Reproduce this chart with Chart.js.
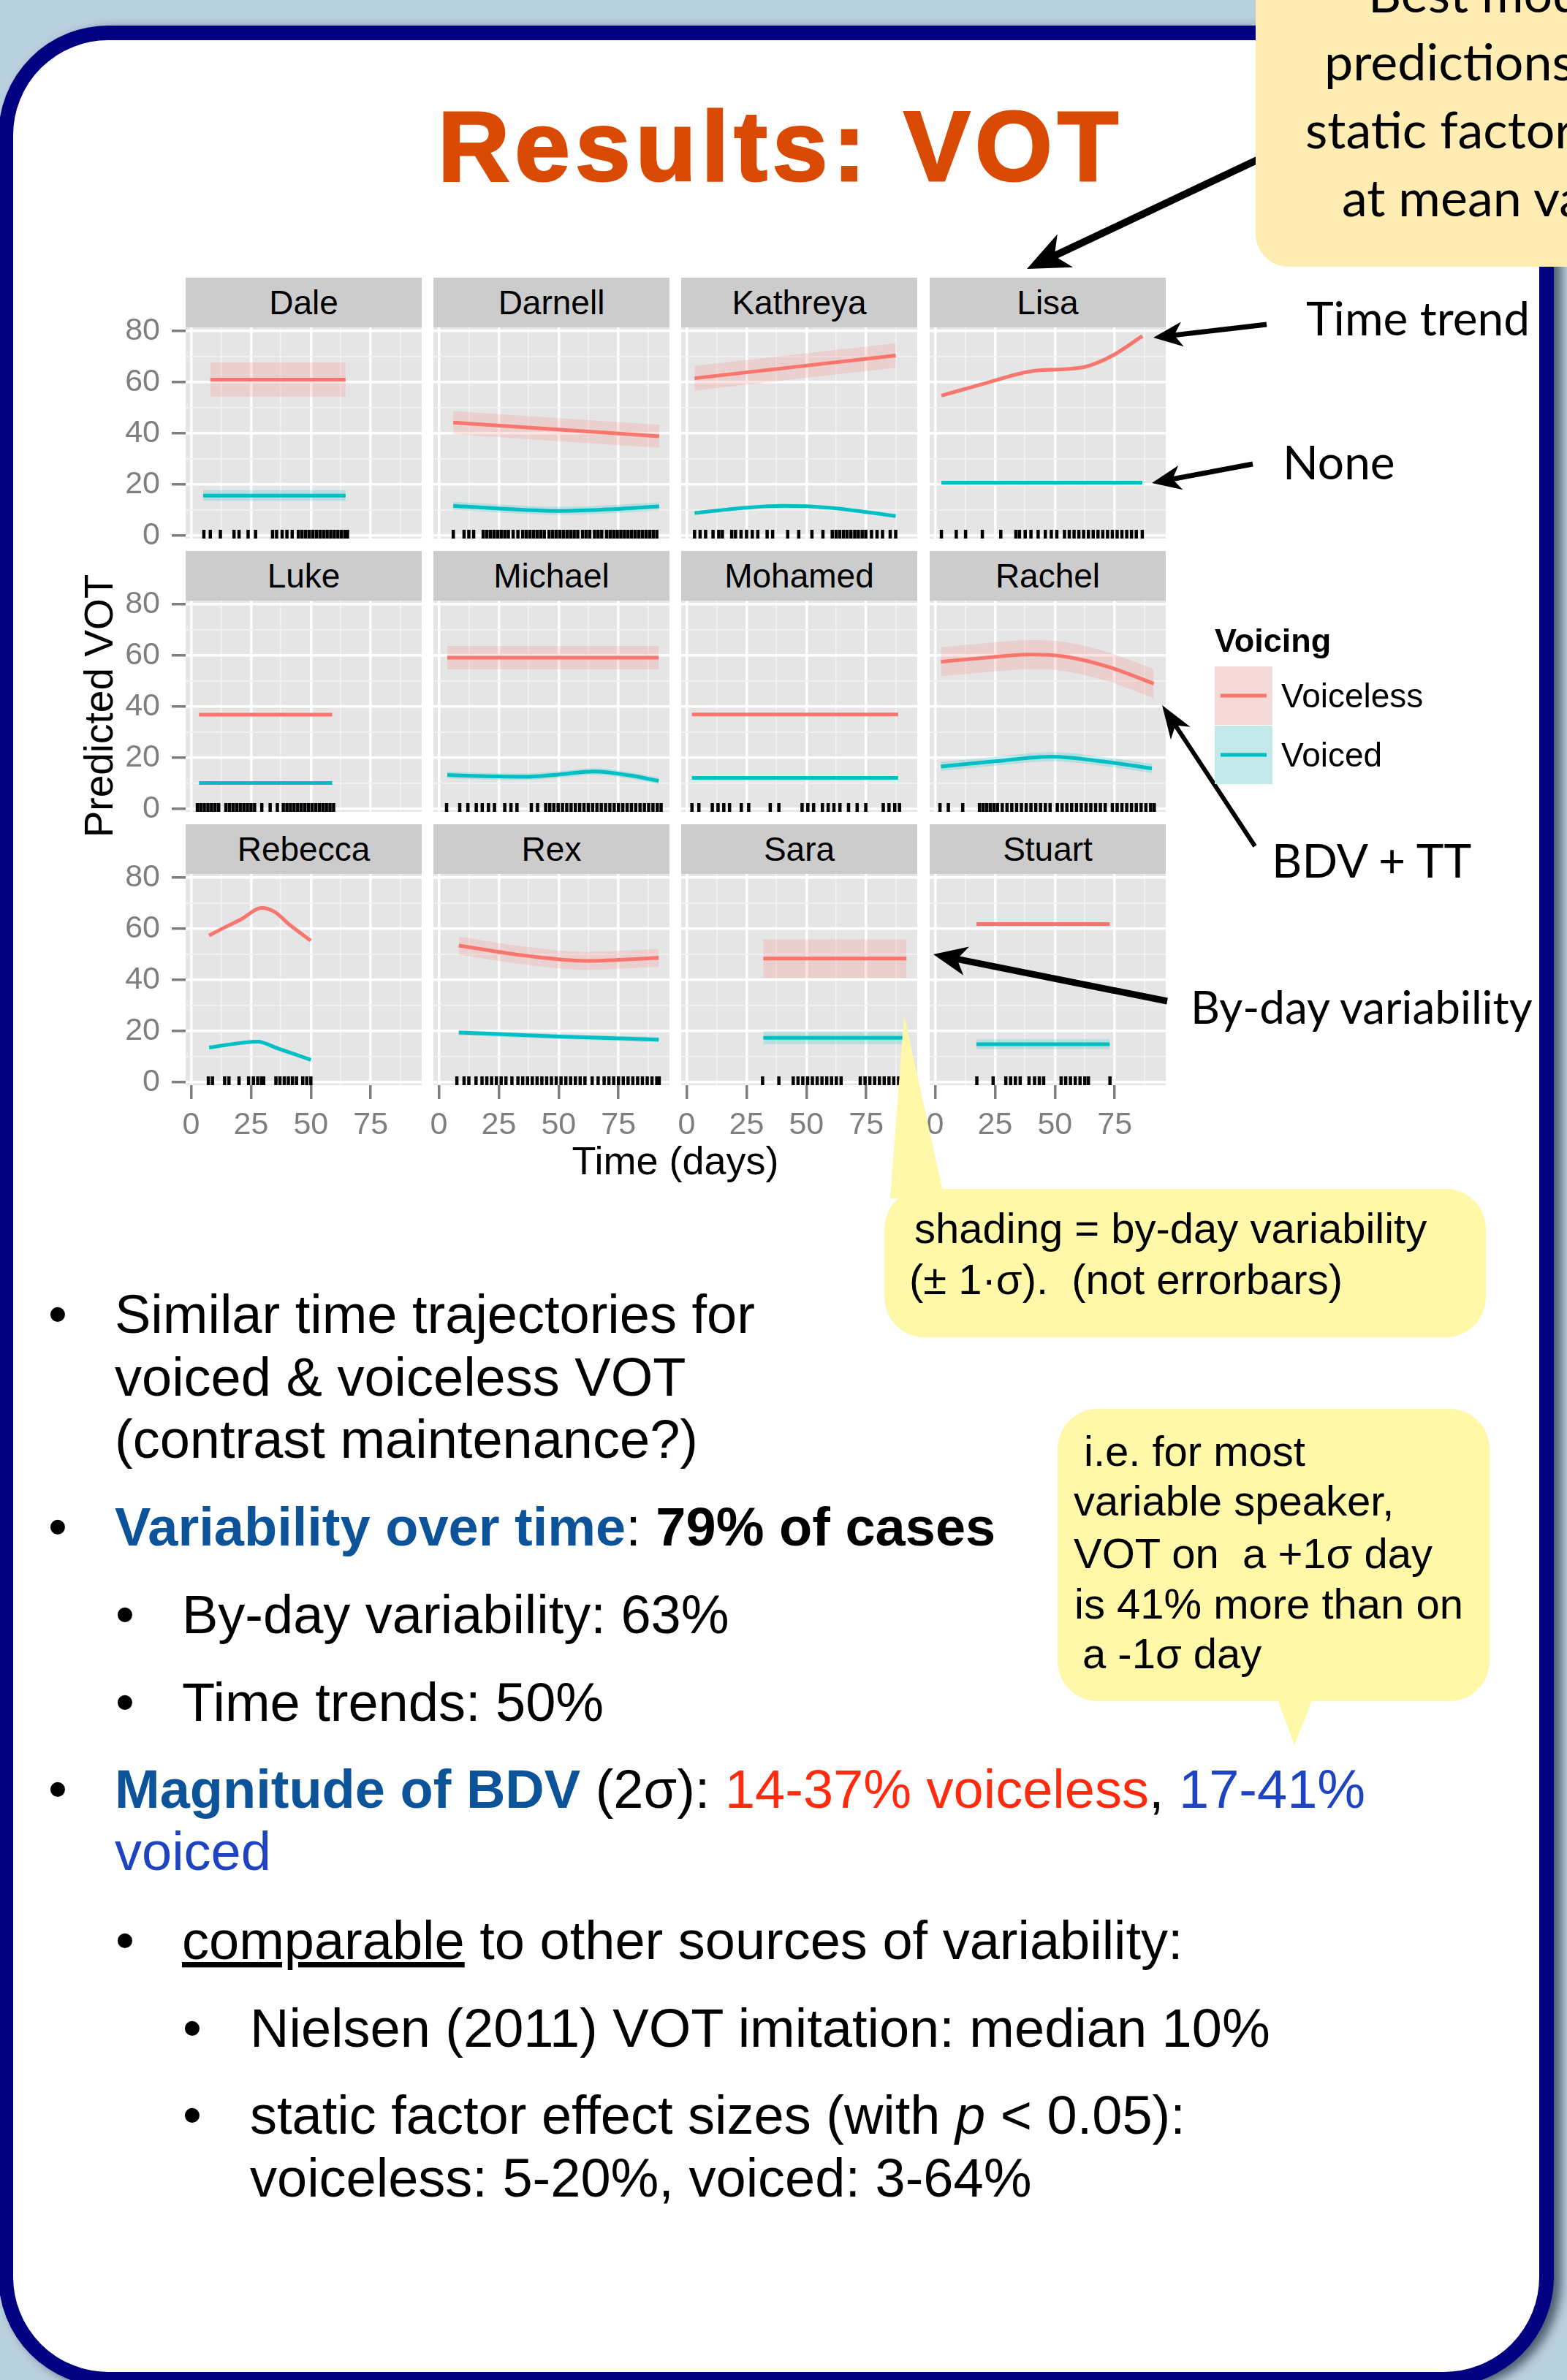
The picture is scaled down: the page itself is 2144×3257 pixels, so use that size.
<!DOCTYPE html>
<html>
<head>
<meta charset="utf-8">
<title>Results: VOT</title>
<script src="https://cdn.jsdelivr.net/npm/chart.js@4.4.1/dist/chart.umd.min.js"></script>
<style>
  html, body { margin: 0; padding: 0; }
  body { position: relative; width: 2144px; height: 3257px; overflow: hidden; background: #b9d0df;
         font-family: "Liberation Sans", Arial, sans-serif; }
  #frame { position: absolute; left: -2px; top: 35px; width: 2088px; height: 3191px; border: 20px solid #000080;
           border-radius: 150px; background: #fff; box-shadow: 10px 4px 14px rgba(20, 30, 50, 0.65); }
  .strip { position: absolute; z-index: 1; width: 323px; height: 68px; background: #cccccc; color: #000;
           font-size: 46px; line-height: 68px; text-align: center; }
  canvas { position: absolute; z-index: 2; }
  #overlay { position: absolute; left: 0; top: 0; z-index: 5; }
</style>
</head>
<body>
<div id="frame"></div>

<svg id="overlay" width="2144" height="3257" xmlns="http://www.w3.org/2000/svg">
  <g id="arrows"></g>

  <!-- callouts -->
  <rect x="1718" y="-80" width="500" height="445" rx="45" fill="#feecb3"/>
  <g fill="#fef8a8">
    <polygon points="1237,1389 1292,1640 1218,1640"/>
    <rect x="1210" y="1627" width="823" height="203" rx="55"/>
    <polygon points="1746,2320 1798,2320 1771,2388"/>
    <rect x="1447" y="1928" width="591" height="400" rx="55"/>
  </g>

  <g font-family="Lato, 'Open Sans', sans-serif" font-size="70" fill="#000">
    <text x="1872" y="17">Best model</text>
    <text x="1812" y="110">predictions</text>
    <text x="1786" y="203">static factors</text>
    <text x="1836" y="296">at mean values</text>
  </g>
  <g font-family="Lato, 'Open Sans', sans-serif" font-size="64" fill="#000">
    <text x="1787" y="459">Time trend</text>
    <text x="1755" y="656">None</text>
    <text x="1740" y="1201">BDV + TT</text>
    <text x="1629" y="1401" font-size="62">By-day variability</text>
  </g>

  <g font-family="'Liberation Sans', Arial, sans-serif">
    <text x="1068" y="247" text-anchor="middle" font-weight="bold" font-size="136" fill="#d94a04"
          stroke="#d94a04" stroke-width="3" letter-spacing="7">Results: VOT</text>
    <text transform="translate(154,966) rotate(-90)" text-anchor="middle" font-size="55">Predicted VOT</text>
    <text x="924" y="1607" text-anchor="middle" font-size="54">Time (days)</text>
  </g>

  <g id="legend" font-family="'Liberation Sans', Arial, sans-serif"></g>

  <g font-family="'Liberation Sans', Arial, sans-serif" font-size="58" fill="#000">
    <text x="1251" y="1701" xml:space="preserve">shading = by-day variability</text>
    <text x="1244" y="1771" xml:space="preserve">(± 1·σ).  (not errorbars)</text>
    <text x="1483" y="2006" xml:space="preserve">i.e. for most</text>
    <text x="1469" y="2074" xml:space="preserve">variable speaker,</text>
    <text x="1469" y="2146" xml:space="preserve">VOT on  a +1σ day</text>
    <text x="1470" y="2215" xml:space="preserve">is 41% more than on</text>
    <text x="1481" y="2283" xml:space="preserve">a -1σ day</text>
  </g>

  <g font-family="'Liberation Sans', Arial, sans-serif" font-size="74" fill="#000">
    <text x="79" y="1824" text-anchor="middle">•</text>
    <text x="157" y="1824">Similar time trajectories for</text>
    <text x="157" y="1910">voiced &amp; voiceless VOT</text>
    <text x="157" y="1995">(contrast maintenance?)</text>

    <text x="79" y="2115" text-anchor="middle">•</text>
    <text x="157" y="2115"><tspan font-weight="bold" fill="#0d5399">Variability over time</tspan>: <tspan font-weight="bold">79% of cases</tspan></text>
    <text x="171" y="2235" text-anchor="middle">•</text>
    <text x="249" y="2235">By-day variability: 63%</text>
    <text x="171" y="2355" text-anchor="middle">•</text>
    <text x="249" y="2355">Time trends: 50%</text>

    <text x="79" y="2474" text-anchor="middle">•</text>
    <text x="157" y="2474"><tspan font-weight="bold" fill="#0d5399">Magnitude of BDV</tspan> (2σ): <tspan fill="#ff2b0f">14-37% voiceless</tspan>, <tspan fill="#1f44c2">17-41%</tspan></text>
    <text x="157" y="2559" fill="#1f44c2">voiced</text>
    <text x="171" y="2681" text-anchor="middle">•</text>
    <text x="249" y="2681"><tspan text-decoration="underline">comparable</tspan> to other sources of variability:</text>
    <text x="263" y="2801" text-anchor="middle">•</text>
    <text x="342" y="2801">Nielsen (2011) VOT imitation: median 10%</text>
    <text x="263" y="2920" text-anchor="middle">•</text>
    <text x="342" y="2920">static factor effect sizes (with <tspan font-style="italic">p</tspan> &lt; 0.05):</text>
    <text x="342" y="3006">voiceless: 5-20%, voiced: 3-64%</text>
  </g>
</svg>

<script>
// speakers in facet order (4 columns x 3 rows)
const speakers = ['Dale', 'Darnell', 'Kathreya', 'Lisa', 'Luke', 'Michael', 'Mohamed', 'Rachel',
                  'Rebecca', 'Rex', 'Sara', 'Stuart'];
const seriesNames = ['Voiceless', 'Voiced'];

// voiceless fit: days, predicted VOT, by-day sd (0 = no ribbon)
const voicelessDays = [
  [8, 64.5], [6, 92], [3.3, 87.3], [2.6, 20, 39.8, 55.4, 63.2, 74.1, 86.5],
  [3.3, 58.9], [3.5, 91.8], [2.2, 88.3], [2.4, 20, 39.2, 53.7, 73.1, 91.3],
  [7.5, 14, 20.9, 29.4, 34.6, 41.4, 50], [8.3, 35.7, 61.3, 91.8], [32, 91.8], [17.2, 72.9]
];
const voicelessVOT = [
  [61, 61], [44.2, 38.8], [61.5, 70.4], [54.7, 59.3, 64.2, 65.1, 66.1, 70.4, 78],
  [36.8, 36.8], [59.1, 59.1], [36.9, 36.9], [57.5, 59, 60.3, 59.6, 55.3, 48.9],
  [57.3, 60.5, 63.7, 68.1, 66.7, 61.3, 55.3], [53.4, 49.5, 47.4, 48.6], [48.3, 48.3], [61.8, 61.8]
];
const voicelessSD = [6.7, 4.5, 4.8, 0, 0, 4.6, 0, 5.7, 0, 3.5, 7.5, 0];

// voiced fit
const voicedDays = [
  [5, 64.5], [6, 30, 50, 70, 92], [3.3, 25, 40.6, 59.3, 87.3], [2.6, 86.5],
  [3.3, 58.9], [3.5, 20, 35.7, 50, 64.8, 80, 91.8], [2.2, 88.3], [2.4, 25, 48.9, 70, 90.5],
  [7.5, 27.7, 36.3, 50], [8.3, 50, 91.8], [32, 90.8], [17.2, 72.9]
];
const voicedVOT = [
  [15.6, 15.6], [11.6, 10.3, 9.6, 10.2, 11.4], [8.8, 10.9, 11.6, 10.9, 7.6], [20.7, 20.7],
  [10.1, 10.1], [13.2, 12.7, 12.5, 13.4, 14.6, 13, 10.9], [12.1, 12.1], [16.5, 18.6, 20.4, 18.5, 15.8],
  [13.5, 15.8, 13.1, 8.7], [19.4, 17.8, 16.6], [17.3, 17.3], [14.8, 14.8]
];
const voicedSD = [2.1, 1.6, 0, 0, 0, 1.3, 0, 1.8, 0, 1.0, 2.5, 1.9];

// recording days (rug)
const rugDays = [
  [5.3, 8, 12.2, 17.9, 20, 23.8, 26.9, 34, 35.7, 38, 40, 42.2, 44.8, 46.3, 47.8, 49.3, 50.8, 52.3, 53.8, 55.3, 56.8, 58.3, 59.8, 61.3, 62.8, 64.3, 65.3],
  [6, 10.5, 12.5, 14.5, 18.5, 20, 21.5, 23, 24.5, 26, 27.5, 29, 31, 33, 35, 36.5, 38, 39.5, 41, 42.5, 44, 46, 47.5, 49, 50.5, 52, 53.5, 55, 56.5, 58, 60, 61.5, 63, 65, 66.5, 68, 70, 71.5, 73, 74.5, 76, 77.5, 79, 80.5, 82, 83.5, 85, 86.5, 88, 89.5, 91],
  [3.3, 5.6, 7.9, 11, 13.4, 14.9, 18.8, 20.4, 22.7, 25, 27.4, 29.7, 33.6, 35.9, 42.2, 46.8, 52.3, 56.9, 60.8, 62.4, 63.9, 65.5, 67, 68.6, 70.2, 71.7, 73.3, 74.8, 77.2, 79.5, 81.8, 85, 87.3],
  [2.6, 8.8, 12.7, 19.7, 27.4, 33.7, 35.2, 37.6, 40, 43, 46, 48.5, 50.8, 54, 56, 58, 60, 62, 64, 66, 68, 70, 72, 74, 76, 78, 80, 82, 84, 86.5],
  [2.6, 4, 5.5, 7, 8.5, 10, 11.5, 14.5, 16, 17.5, 19, 20.5, 22, 23.5, 25, 26.5, 29.5, 33, 36, 38.5, 40, 41.5, 43, 44.5, 46, 47.5, 49, 50.5, 52, 53.5, 55, 56.5, 58, 59.5],
  [3.2, 8.7, 12.1, 15.6, 18.1, 20.7, 23.2, 27.5, 30.1, 32.6, 38.6, 41.2, 44.6, 46.3, 48, 49.8, 51.6, 53.4, 55.2, 57, 58.8, 60.6, 62.4, 64.2, 66, 67.8, 69.6, 71.4, 73.2, 75, 76.8, 78.6, 80.4, 82.2, 84, 85.8, 87.6, 89.4, 91.2, 92.8],
  [2.2, 5.1, 10.7, 13.1, 15.5, 17.9, 22.8, 25.9, 34.9, 38.5, 48.2, 50.6, 53, 56.7, 59.1, 61.5, 64, 67.6, 71.2, 74.8, 82.1, 84.5, 86.9, 88.9],
  [2, 5.5, 11.5, 18.5, 20, 21.5, 23, 24.5, 26, 28, 30, 32, 34, 36, 38, 40, 42, 44, 46, 48, 51, 53, 55, 57, 59, 61, 63, 65, 67, 69, 71, 74, 76, 78, 80, 82, 84, 86, 88, 90, 91.5],
  [7.2, 8.9, 14, 15.8, 20, 24, 26, 27.8, 29.4, 30.3, 35.4, 37.1, 38.9, 40.6, 42.3, 44, 46.6, 48.3, 50],
  [7.5, 10.5, 12.5, 15.5, 18, 20, 22, 24, 26, 28, 30.5, 33, 35, 37, 39, 41, 43, 45, 47, 49, 51, 53, 55, 57, 59, 61, 64, 66.5, 69, 71, 73, 75, 77, 79, 81, 83, 85, 87, 89, 91, 92],
  [31.7, 38.5, 44.5, 46.5, 48.5, 50.5, 52.5, 54.5, 56.5, 58.5, 60.5, 62.5, 64.5, 72.5, 74.5, 76.5, 78.5, 80.5, 82.5, 84.5, 86.5, 88.5],
  [17.4, 24.2, 29.5, 31.5, 33.5, 35.5, 39.2, 41.5, 43.5, 45.3, 52.6, 54.5, 56.5, 58.5, 60.5, 62.5, 64, 73]
];

const xTicks = [0, 12.5, 25, 37.5, 50, 62.5, 75, 87.5];
const yTicks = [0, 10, 20, 30, 40, 50, 60, 70, 80];
const X_MIN = -2.3, X_MAX = 96.3, Y_MIN = -1.2, Y_MAX = 81.4;

const lineColors = ['#F8766D', '#00BFC4'];
const bandColors = ['rgba(248,118,109,0.2)', 'rgba(0,191,196,0.2)'];
const keyColors = ['#f3d9d7', '#c2e8e9'];

// facet layout
const COL_X = [254, 593, 932, 1272];
const ROW_Y = [448, 822, 1196];
const PANEL_W = 323, PANEL_H = 289, STRIP_H = 68;
const Y_AXIS_W = 110, X_AXIS_H = 100, PAD = 30;

Chart.defaults.font.family = '"Liberation Sans", Arial, sans-serif';

const panelBackground = {
  id: 'panelBackground',
  beforeDraw(chart) {
    const { ctx, chartArea: a } = chart;
    ctx.save();
    ctx.fillStyle = '#e5e5e5';
    ctx.fillRect(a.left, a.top, a.right - a.left, a.bottom - a.top);
    ctx.restore();
  }
};

function curve(days, vals, shift) {
  return days.map((d, k) => ({ x: d, y: vals[k] + shift }));
}

const isMajorX = c => c.tick && c.tick.value % 25 === 0;
const isMajorY = c => c.tick && c.tick.value % 20 === 0;

speakers.forEach((name, i) => {
  const col = i % 4, row = Math.floor(i / 4);
  const showY = col === 0, showX = row === 2;
  const yw = showY ? Y_AXIS_W : 0, xh = showX ? X_AXIS_H : 0;

  const strip = document.createElement('div');
  strip.className = 'strip';
  strip.style.left = COL_X[col] + 'px';
  strip.style.top = (ROW_Y[row] - STRIP_H) + 'px';
  strip.textContent = name;
  document.body.appendChild(strip);

  const canvas = document.createElement('canvas');
  canvas.width = PANEL_W + yw + 2 * PAD;
  canvas.height = PANEL_H + xh + 2 * PAD;
  canvas.style.left = (COL_X[col] - yw - PAD) + 'px';
  canvas.style.top = (ROW_Y[row] - PAD) + 'px';
  document.body.appendChild(canvas);

  const fits = [
    [voicelessDays, voicelessVOT, voicelessSD],
    [voicedDays, voicedVOT, voicedSD]
  ];
  const datasets = [];
  fits.forEach(([days, vals, sd], s) => {
    if (sd[i] > 0) {
      datasets.push({ data: curve(days[i], vals[i], sd[i]), fill: '+1', backgroundColor: bandColors[s],
        borderColor: 'rgba(0,0,0,0)', borderWidth: 0, pointRadius: 0, cubicInterpolationMode: 'monotone', order: 3 });
      datasets.push({ data: curve(days[i], vals[i], -sd[i]), fill: false,
        borderColor: 'rgba(0,0,0,0)', borderWidth: 0, pointRadius: 0, cubicInterpolationMode: 'monotone', order: 3 });
    }
  });
  fits.forEach(([days, vals], s) => {
    datasets.push({ data: curve(days[i], vals[i], 0), borderColor: lineColors[s], borderWidth: 5,
      pointRadius: 0, fill: false, cubicInterpolationMode: 'monotone', order: 2 });
  });
  datasets.push({
    data: rugDays[i].map(d => ({ x: d, y: Y_MIN })), showLine: false,
    pointStyle: 'line', pointRotation: 90, pointRadius: 12, pointBorderWidth: 4.5,
    pointBorderColor: '#000', pointBackgroundColor: '#000', borderColor: '#000', clip: 0, order: 1
  });

  new Chart(canvas, {
    type: 'line',
    data: { datasets },
    plugins: [panelBackground],
    options: {
      responsive: false,
      animation: false,
      devicePixelRatio: 1,
      events: [],
      layout: { padding: PAD, autoPadding: false },
      plugins: { legend: { display: false }, tooltip: { enabled: false } },
      scales: {
        x: {
          type: 'linear', min: X_MIN, max: X_MAX,
          afterBuildTicks: a => { a.ticks = xTicks.map(v => ({ value: v })); },
          afterFit: a => { a.height = xh; a.paddingLeft = 0; a.paddingRight = 0; a.paddingTop = 0; a.paddingBottom = 0; },
          border: { display: false },
          grid: {
            color: c => isMajorX(c) ? '#ffffff' : '#f2f2f2',
            lineWidth: c => isMajorX(c) ? 3.5 : 1.8,
            drawTicks: showX, tickLength: 19, tickWidth: 3.5,
            tickColor: c => isMajorX(c) ? '#7f7f7f' : 'rgba(0,0,0,0)'
          },
          ticks: {
            display: showX, autoSkip: false, maxRotation: 0, minRotation: 0, padding: 10,
            color: '#7f7f7f', font: { size: 43 },
            callback: v => v % 25 === 0 ? v : ''
          }
        },
        y: {
          min: Y_MIN, max: Y_MAX,
          afterBuildTicks: a => { a.ticks = yTicks.map(v => ({ value: v })); },
          afterFit: a => { a.width = yw; a.paddingLeft = 0; a.paddingRight = 0; a.paddingTop = 0; a.paddingBottom = 0; },
          border: { display: false },
          grid: {
            color: c => isMajorY(c) ? '#ffffff' : '#f2f2f2',
            lineWidth: c => isMajorY(c) ? 3.5 : 1.8,
            drawTicks: showY, tickLength: 19, tickWidth: 3.5,
            tickColor: c => isMajorY(c) ? '#7f7f7f' : 'rgba(0,0,0,0)'
          },
          ticks: {
            display: showY, autoSkip: false, padding: 16,
            color: '#7f7f7f', font: { size: 43 },
            callback: v => v % 20 === 0 ? v : ''
          }
        }
      }
    }
  });
});

// legend and annotation arrows (svg overlay)
const NS = 'http://www.w3.org/2000/svg';
function svgEl(parent, tag, attrs, text) {
  const el = document.createElementNS(NS, tag);
  for (const k in attrs) el.setAttribute(k, attrs[k]);
  if (text) el.textContent = text;
  parent.appendChild(el);
  return el;
}

const legend = document.getElementById('legend');
svgEl(legend, 'text', { x: 1662, y: 892, 'font-size': 45, 'font-weight': 'bold' }, 'Voicing');
seriesNames.forEach((s, k) => {
  const top = 912 + k * 81;
  svgEl(legend, 'rect', { x: 1662, y: top, width: 79, height: 80, fill: keyColors[k] });
  svgEl(legend, 'line', { x1: 1670, x2: 1733, y1: top + 40, y2: top + 40, stroke: lineColors[k], 'stroke-width': 5 });
  svgEl(legend, 'text', { x: 1753, y: top + 56, 'font-size': 46 }, s);
});

function arrow(x1, y1, x2, y2, w, len, half) {
  const g = document.getElementById('arrows');
  const dx = x2 - x1, dy = y2 - y1, d = Math.hypot(dx, dy);
  const ux = dx / d, uy = dy / d, px = -uy, py = ux;
  const bx = x2 - ux * len, by = y2 - uy * len;
  const nx = x2 - ux * len * 0.72, ny = y2 - uy * len * 0.72;
  svgEl(g, 'line', { x1, y1, x2: nx + ux * 4, y2: ny + uy * 4, stroke: '#000', 'stroke-width': w });
  const pts = [[x2, y2], [bx + px * half, by + py * half], [nx, ny], [bx - px * half, by - py * half]];
  svgEl(g, 'polygon', { points: pts.map(p => p.join(',')).join(' '), fill: '#000' });
}
arrow(1722, 218, 1405, 368, 10, 58, 25);
arrow(1733, 444, 1578, 462, 7, 40, 17);
arrow(1714, 635, 1576, 661, 7, 40, 17);
arrow(1717, 1158, 1590, 965, 6, 46, 16);
arrow(1597, 1370, 1277, 1306, 9, 46, 20);
</script>
</body>
</html>
